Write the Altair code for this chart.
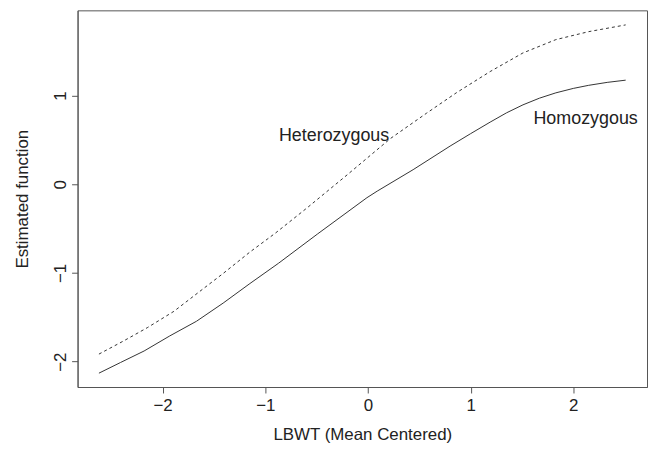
import altair as alt
import pandas as pd

# Homozygous (solid)
homo_x = [-2.62, -2.41, -2.18, -1.93, -1.67, -1.41, -1.15, -0.87, -0.49, -0.01, 0.09, 0.44, 0.80, 1.00, 1.19, 1.35, 1.51, 1.67, 1.83, 2.00, 2.15, 2.33, 2.51]
homo_y = [-2.13, -2.01, -1.88, -1.71, -1.545, -1.34, -1.12, -0.89, -0.56, -0.152, -0.078, 0.164, 0.43, 0.57, 0.70, 0.805, 0.895, 0.97, 1.03, 1.08, 1.115, 1.148, 1.173]

# Heterozygous (dashed)
het_x = [-2.62, -2.38, -2.15, -1.89, -1.64, -1.41, -1.15, -0.90, -0.59, -0.20, 0.22, 0.57, 0.86, 1.19, 1.51, 1.83, 2.15, 2.51]
het_y = [-1.915, -1.767, -1.618, -1.433, -1.21, -1.006, -0.765, -0.55, -0.264, 0.108, 0.516, 0.80, 1.03, 1.27, 1.48, 1.63, 1.72, 1.796]

label_text = ["Heterozygous", "Homozygous"]
label_x = [-0.33, 2.12]
label_y = [0.545, 0.74]

x_ticks = [-2, -1, 0, 1, 2]
y_ticks = [-2, -1, 0, 1]

homo = pd.DataFrame({"x": homo_x, "y": homo_y})
het = pd.DataFrame({"x": het_x, "y": het_y})
labels = pd.DataFrame({"x": label_x, "y": label_y, "t": label_text})

FONT = "Liberation Sans"
xs = alt.Scale(domain=[-2.828, 2.718], nice=False, zero=False)
ys = alt.Scale(domain=[-2.286, 1.96], nice=False, zero=False)

xenc = alt.X("x:Q", scale=xs, axis=alt.Axis(
    values=x_ticks, title="LBWT (Mean Centered)", grid=False, domain=True,
    domainColor="#555", tickColor="#555", tickSize=6, labelFontSize=17, labelFont=FONT,
    labelColor="#222", labelPadding=5, titleFontSize=17, titleFont=FONT,
    titleFontWeight="normal", titleColor="#222", titlePadding=13, format="d"))
yenc = alt.Y("y:Q", scale=ys, axis=alt.Axis(
    values=y_ticks, title="Estimated function", grid=False, domain=True,
    domainColor="#555", tickColor="#555", tickSize=6, labelFontSize=17, labelFont=FONT,
    labelColor="#222", labelPadding=2, labelAngle=270, labelAlign="center",
    labelBaseline="bottom", titleFontSize=17, titleFont=FONT,
    titleFontWeight="normal", titleColor="#222", titlePadding=20, format="d"))

l1 = alt.Chart(homo).mark_line(color="#333", strokeWidth=1).encode(x=xenc, y=yenc)
l2 = alt.Chart(het).mark_line(color="#333", strokeWidth=1, strokeDash=[3, 3]).encode(x="x:Q", y="y:Q")
txt = alt.Chart(labels).mark_text(font=FONT, fontSize=18, color="#222").encode(
    x="x:Q", y="y:Q", text="t:N")

chart = alt.layer(l1, l2, txt).properties(
    width=573, height=379,
    background="white",
    autosize=alt.AutoSizeParams(type="none"),
    padding={"left": 70, "top": 1, "right": 3, "bottom": 60},
).configure_view(stroke="#555", strokeWidth=1)

chart.save("out.html", embed_options={"renderer": "svg", "actions": False})
